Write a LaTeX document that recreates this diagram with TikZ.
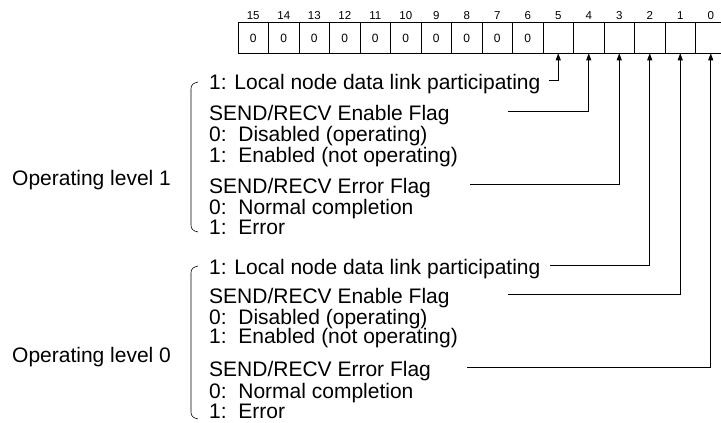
\documentclass[tikz,border=0pt]{standalone}
\usepackage{fontspec}
\setmainfont{Liberation Sans}
\usetikzlibrary{arrows.meta}
\begin{document}
\begin{tikzpicture}[x=1pt,y=-1pt,
  cell/.style={draw, line width=0.8pt, minimum width=30.5pt, minimum height=30.8pt,
               inner sep=0pt, outer sep=0pt, font=\fontsize{12}{12}\selectfont},
  bitno/.style={anchor=base, inner sep=0pt, font=\fontsize{11.5}{11.5}\selectfont},
  txt/.style={anchor=base west, inner sep=0pt, font=\fontsize{21}{21}\selectfont},
  conn/.style={line width=0.7pt, -{Triangle[length=7pt,width=5pt]}},
  bracket/.style={line width=0.6pt}]
\useasboundingbox (0,0) rectangle (721,423);

% register
\foreach \n in {15,...,0} {
  \pgfmathsetmacro\cx{238+(15-\n)*30.5+15.25}
  \node[cell] (b\n) at (\cx,37.9) {\ifnum\n>5 0\fi};
  \node[bitno] (n\n) at (\cx,19.2) {\n};
}

% left labels
\node[txt] (op1) at (12,185.5) {Operating level 1};
\node[txt] (op0) at (12,362) {Operating level 0};

% group 1 texts
\node[txt] (ga1) at (209,89.5)  {1: Local node data link participating};
\node[txt] (ga2) at (209,120.5) {SEND/RECV Enable Flag};
\node[txt] (ga3) at (209,141.5) {0:\ \ Disabled (operating)};
\node[txt] (ga4) at (209,162.5) {1:\ \ Enabled (not operating)};
\node[txt] (ga5) at (209,193.5) {SEND/RECV Error Flag};
\node[txt] (ga6) at (209,214.5) {0:\ \ Normal completion};
\node[txt] (ga7) at (209,234.5) {1:\ \ Error};

% group 2 texts
\node[txt] (gb1) at (209,274.5) {1: Local node data link participating};
\node[txt] (gb2) at (209,303.5) {SEND/RECV Enable Flag};
\node[txt] (gb3) at (209,324.5) {0:\ \ Disabled (operating)};
\node[txt] (gb4) at (209,343.5) {1:\ \ Enabled (not operating)};
\node[txt] (gb5) at (209,376.5) {SEND/RECV Error Flag};
\node[txt] (gb6) at (209,398.5) {0:\ \ Normal completion};
\node[txt] (gb7) at (209,418.5) {1:\ \ Error};

% brackets
\draw[bracket] (198,82) .. controls (193,83) and (191,85) .. (191,89)
  -- (191,225) .. controls (191,229) and (193,231) .. (198,232);
\draw[bracket] (198,266) .. controls (193,267) and (191,269) .. (191,273)
  -- (191,412) .. controls (191,416) and (193,418) .. (198,419);

% connector start points
\coordinate (e5) at (549,80.5);
\coordinate (e4) at (508,111.5);
\coordinate (e3) at (470,184.5);
\coordinate (e2) at (550,265.5);
\coordinate (e1) at (508,294.5);
\coordinate (e0) at (467,367.5);

\draw[conn] (e5) -| (b5.south);
\draw[conn] (e4) -| (b4.south);
\draw[conn] (e3) -| (b3.south);
\draw[conn] (e2) -| (b2.south);
\draw[conn] (e1) -| (b1.south);
\draw[conn] (e0) -| (b0.south);
\end{tikzpicture}
\end{document}
